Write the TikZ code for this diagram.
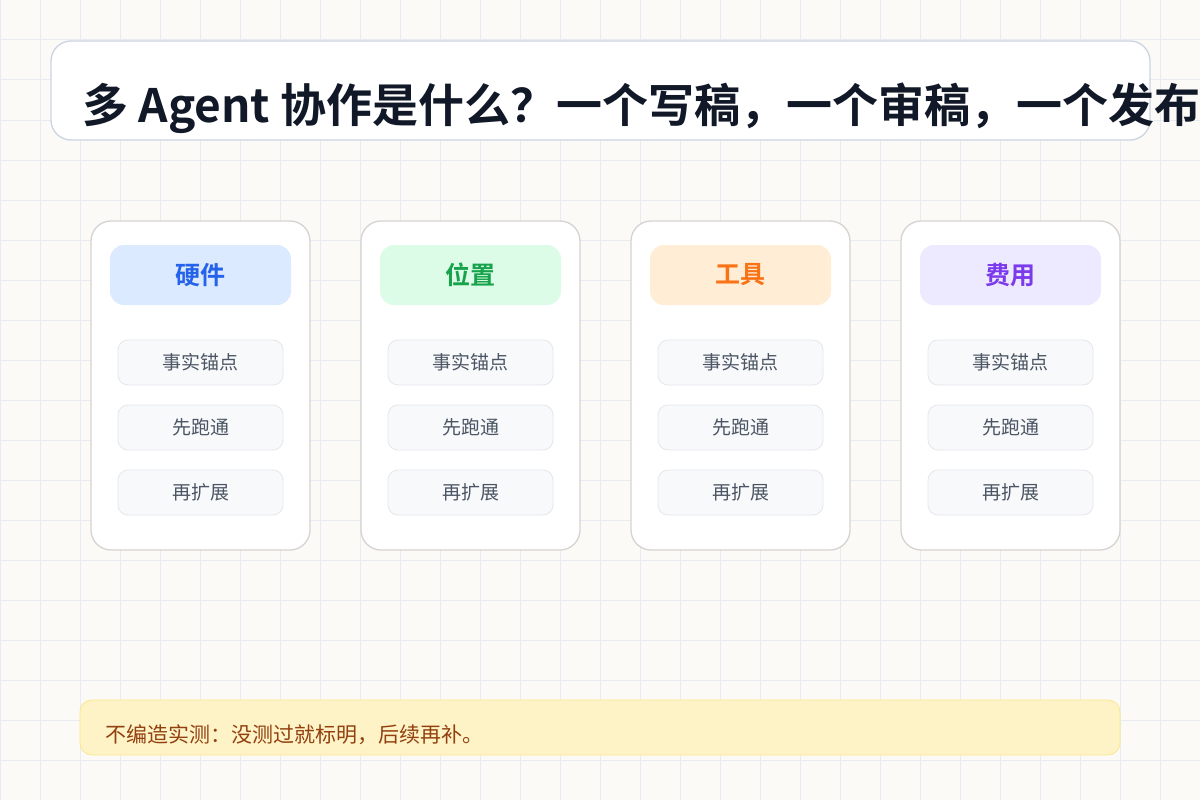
\documentclass[tikz,border=0pt]{standalone}
\usepackage{fontspec}
\setmainfont{Noto Sans CJK SC}
\newfontfamily\cjkb{Noto Sans CJK SC Bold}
\begin{document}
\begin{tikzpicture}[x=1pt,y=-1pt,
  card/.style={draw=cardb,fill=white,rounded corners=20pt,line width=1.3pt},
  pill/.style={rounded corners=14pt,minimum width=181pt,minimum height=60pt,inner sep=0pt,font=\cjkb\fontsize{25}{28}\selectfont},
  item/.style={draw=itemb,fill=itemf,rounded corners=10pt,minimum width=165pt,minimum height=45pt,inner sep=0pt,text=itemt,font=\fontsize{19}{22}\selectfont,line width=0.8pt}]
\definecolor{bg}{HTML}{FCFAF6}\definecolor{gridc}{HTML}{E8ECF2}
\definecolor{cardb}{HTML}{D6D3D1}\definecolor{itemb}{HTML}{E5E7EB}
\definecolor{itemf}{HTML}{F8F9FB}\definecolor{itemt}{HTML}{4B5563}
\definecolor{titleb}{HTML}{CBD5E1}\definecolor{titlet}{HTML}{111827}
\fill[bg] (0,0) rectangle (1200,800);
\useasboundingbox (0,0) rectangle (1200,800);
\foreach \i in {0,40,...,1200} \draw[gridc,line width=1pt] (\i,0) -- (\i,800);
\foreach \i in {0,40,...,800} \draw[gridc,line width=1pt] (0,\i) -- (1200,\i);
\draw[titleb,fill=white,rounded corners=20pt,line width=1.3pt] (51,41) rectangle (1150,140);
\node[anchor=base west,inner sep=0pt,text=titlet,font=\cjkb\fontsize{46}{50}\selectfont] (title) at (82,122) {多 Agent 协作是什么？一个写稿，一个审稿，一个发布};
\foreach \x/\t/\f/\c/\n in {91/硬件/DBEAFE/2563EB/a,361/位置/DCFCE7/16A34A/b,631/工具/FFEDD5/F97316/c,901/费用/EDE9FE/7C3AED/d}{
  \definecolor{pf}{HTML}{\f}\definecolor{pt}{HTML}{\c}
  \draw[card] (\x,221) rectangle ++(219,329);
  \node[pill,fill=pf,text=pt] (h\n) at (\x+109.5,275) {\t};
  \node[item] (i1\n) at (\x+109.5,362.5) {事实锚点};
  \node[item] (i2\n) at (\x+109.5,427.5) {先跑通};
  \node[item] (i3\n) at (\x+109.5,492.5) {再扩展};
}
\definecolor{nf}{HTML}{FEF3C7}\definecolor{nb}{HTML}{FDE68A}\definecolor{nt}{HTML}{92400E}
\draw[nb,fill=nf,rounded corners=12pt,line width=0.8pt] (80,700) rectangle (1120,755);
\node[anchor=west,inner sep=0pt,text=nt,font=\fontsize{21}{24}\selectfont] (note) at (105,735) {不编造实测：没测过就标明，后续再补。};
\end{tikzpicture}
\end{document}
